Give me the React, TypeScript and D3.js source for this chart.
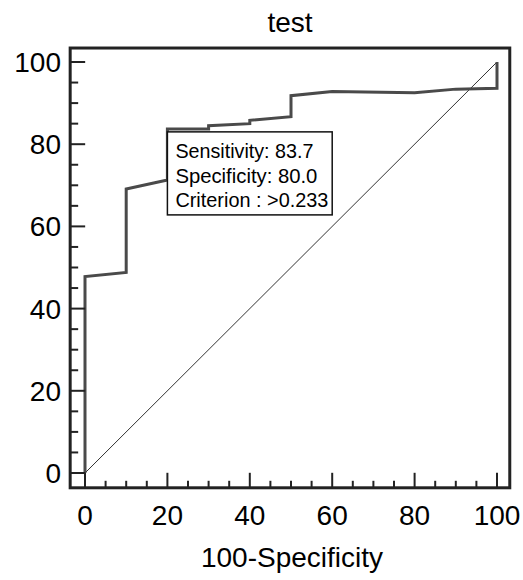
import React, { useRef, useEffect } from "react";
import * as d3 from "d3";

// ROC curve points: 100-specificity vs sensitivity
const fpr = [0, 0, 10, 10, 20, 20, 30, 30, 40, 40, 50, 50, 60, 80, 90, 100, 100];
const sens = [0, 47.8, 48.8, 69.1, 71.3, 83.7, 83.7, 84.5, 85.0, 85.8, 86.7, 91.8, 92.8, 92.5, 93.4, 93.6, 100];

const xTicks = [0, 20, 40, 60, 80, 100];
const yTicks = [0, 20, 40, 60, 80, 100];
const minorTicks = d3.range(0, 101, 5);

const labelLines = ["Sensitivity: 83.7", "Specificity: 80.0", "Criterion : >0.233"];
const labelWidths = [138, 142, 153];
const title = "test";
const xTitle = "100-Specificity";

const App = () => {
	const svgRef = useRef<SVGSVGElement>(null);
	const width = 523;
	const height = 580;

	useEffect(() => {
		const svg = d3.select(svgRef.current);
		svg.selectAll("*").remove();

		const x = d3.scaleLinear().domain([0, 100]).range([85, 497]);
		const y = d3.scaleLinear().domain([0, 100]).range([473, 62]);

		// frame extent in data units
		const fx0 = -3.6, fx1 = 103.1, fy0 = -3.6, fy1 = 103.4;
		const font = "Liberation Sans, Arial, sans-serif";

		// title
		svg.append("text")
			.attr("x", (x(fx0) + x(fx1)) / 2)
			.attr("y", 32)
			.attr("text-anchor", "middle")
			.attr("font-family", font)
			.attr("font-size", 28)
			.text(title);

		// diagonal reference line
		svg.append("line")
			.attr("x1", x(0)).attr("y1", y(0))
			.attr("x2", x(100)).attr("y2", y(100))
			.attr("stroke", "#333")
			.attr("stroke-width", 1);

		// ROC curve
		const pts = fpr.map((d, i) => [d, sens[i]] as [number, number]);
		svg.append("path")
			.datum(pts)
			.attr("fill", "none")
			.attr("stroke", "#4a4a4a")
			.attr("stroke-width", 3)
			.attr("stroke-linejoin", "miter")
			.attr("d", d3.line<[number, number]>().x(d => x(d[0])).y(d => y(d[1])));

		// ticks: y inward from left frame, x upward from bottom frame
		const g = svg.append("g").attr("stroke", "#222").attr("stroke-width", 2);
		minorTicks.forEach(t => {
			const major = t % 20 === 0;
			g.append("line")
				.attr("x1", x(fx0)).attr("x2", x(fx0) + (major ? 15 : 8))
				.attr("y1", y(t)).attr("y2", y(t));
			g.append("line")
				.attr("y1", y(fy0)).attr("y2", y(fy0) - (major ? 15 : 7))
				.attr("x1", x(t)).attr("x2", x(t));
		});

		// frame
		svg.append("rect")
			.attr("x", x(fx0)).attr("y", y(fy1))
			.attr("width", x(fx1) - x(fx0))
			.attr("height", y(fy0) - y(fy1))
			.attr("fill", "none")
			.attr("stroke", "#222")
			.attr("stroke-width", 3);

		// tick labels
		svg.append("g").selectAll("text")
			.data(yTicks).join("text")
			.attr("x", 61)
			.attr("y", d => y(d))
			.attr("dy", "0.36em")
			.attr("text-anchor", "end")
			.attr("font-family", font)
			.attr("font-size", 28)
			.text(d => d);
		svg.append("g").selectAll("text")
			.data(xTicks).join("text")
			.attr("x", d => x(d))
			.attr("y", 525)
			.attr("text-anchor", "middle")
			.attr("font-family", font)
			.attr("font-size", 28)
			.text(d => d);

		svg.append("text")
			.attr("x", 292)
			.attr("y", 567)
			.attr("text-anchor", "middle")
			.attr("font-family", font)
			.attr("font-size", 28)
			.text(xTitle);

		// criterion label box
		const bx0 = 20, bx1 = 60, by0 = 83.0, by1 = 62.8;
		svg.append("rect")
			.attr("x", x(bx0)).attr("y", y(by0))
			.attr("width", x(bx1) - x(bx0))
			.attr("height", y(by1) - y(by0))
			.attr("fill", "white")
			.attr("stroke", "#111")
			.attr("stroke-width", 1.5);
		svg.append("g").selectAll("text")
			.data(labelLines).join("text")
			.attr("x", x(bx0) + 8)
			.attr("y", (d, i) => y(by0) + 26.5 + i * 24.3)
			.attr("font-family", font)
			.attr("font-size", 21)
			.attr("textLength", (d, i) => labelWidths[i])
			.attr("lengthAdjust", "spacingAndGlyphs")
			.text(d => d);
	});

	return (
		<svg ref={svgRef} width={width} height={height}
			style={{ position: "absolute", left: 0, top: 0, background: "white" }}>
		</svg>
	);
};

export default App;
